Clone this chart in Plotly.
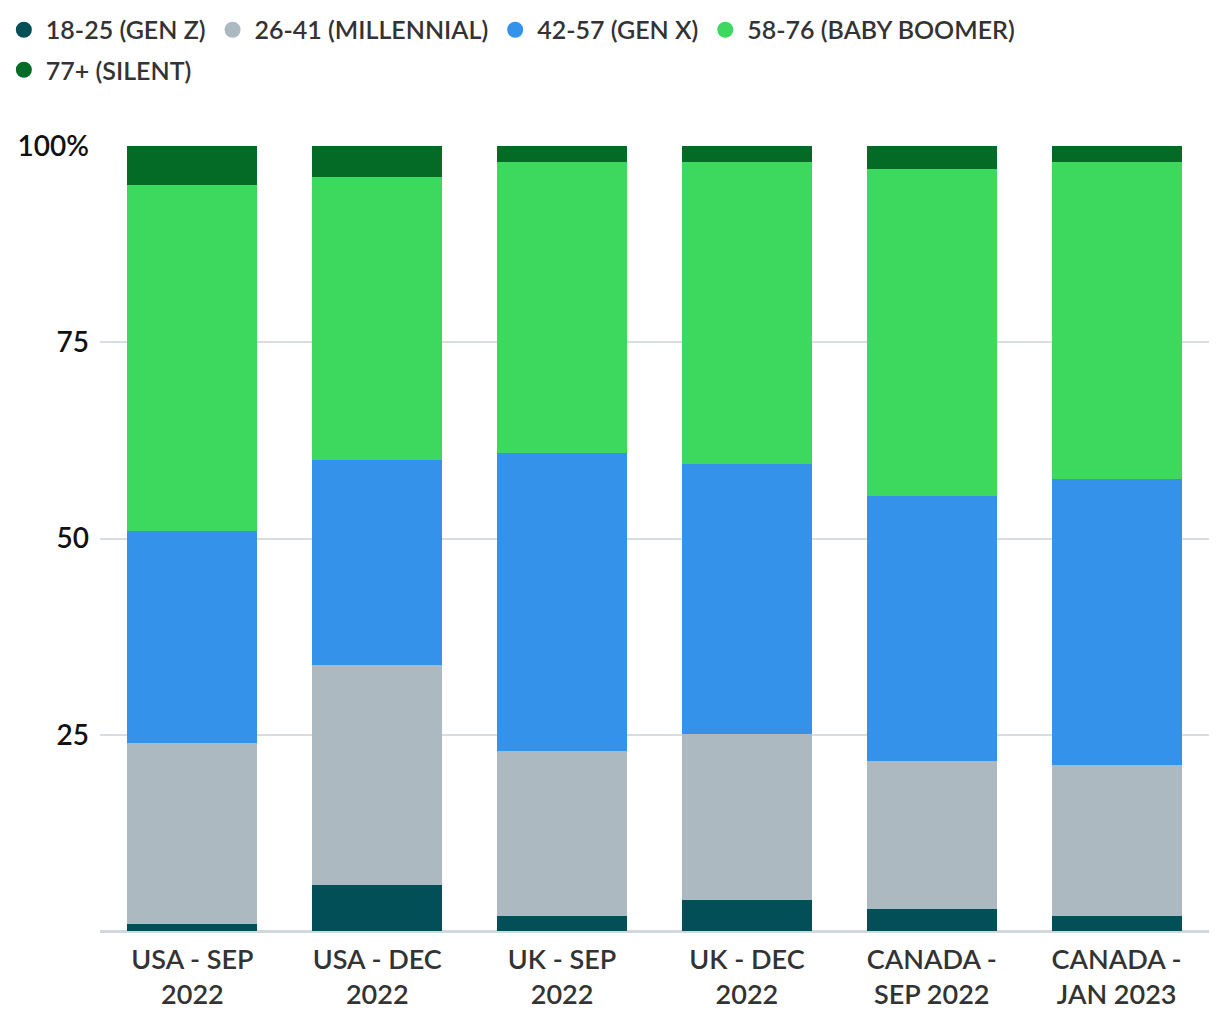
import plotly.graph_objects as go

categories = ["USA - SEP<br>2022", "USA - DEC<br>2022", "UK - SEP<br>2022",
              "UK - DEC<br>2022", "CANADA -<br>SEP 2022", "CANADA -<br>JAN 2023"]
series_names = ["18-25 (GEN Z)", "26-41 (MILLENNIAL)", "42-57 (GEN X)",
                "58-76 (BABY BOOMER)", "77+ (SILENT)"]
gen_z = [0.9, 5.9, 1.9, 3.9, 2.8, 1.9]
millennial = [23.0, 28.0, 21.0, 21.2, 18.9, 19.2]
gen_x = [27.1, 26.1, 38.0, 34.4, 33.7, 36.5]
boomer = [44.0, 36.1, 37.1, 38.5, 41.7, 40.4]
silent = [5.0, 3.9, 2.0, 2.0, 2.9, 2.0]
tick_vals = [0, 25, 50, 75, 100]
tick_text = ["", "25", "50", "75", "100%"]

colors = ["#024f57", "#adb9c1", "#3492ea", "#3cd95e", "#036b26"]
values = [gen_z, millennial, gen_x, boomer, silent]
legend_rows = ["legend", "legend", "legend", "legend", "legend2"]
semi = "Lato Semibold, Lato"

fig = go.Figure()
for name, vals, col in zip(series_names, values, colors):
    fig.add_trace(go.Bar(x=categories, y=vals, name=name, marker_color=col,
                         marker_line_width=0, showlegend=False))
for name, col, lg in zip(series_names, colors, legend_rows):
    fig.add_trace(go.Scatter(x=[None], y=[None], mode="markers", name=name,
                             legend=lg,
                             marker=dict(color=col, size=16, symbol="circle")))

legend_style = dict(orientation="h", xanchor="left", yanchor="middle",
                    font=dict(size=25, color="#333333", family=semi),
                    itemwidth=34, traceorder="normal", tracegroupgap=0,
                    bgcolor="rgba(0,0,0,0)")

fig.update_layout(
    width=1212, height=1012,
    barmode="stack", bargap=0.297,
    plot_bgcolor="white", paper_bgcolor="white",
    margin=dict(l=91.5, r=10.5, t=138, b=89, autoexpand=False),
    font=dict(family=semi, color="#333333"),
    legend=dict(x=-0.0885, y=1.1478, **legend_style),
    legend2=dict(x=-0.0885, y=1.0968, **legend_style),
    xaxis=dict(showgrid=False,
               tickfont=dict(size=27, color="#333333", family=semi),
               ticks="", showline=False, ticklabelstandoff=10),
    yaxis=dict(range=[0, 100], tickvals=tick_vals, ticktext=tick_text,
               tickfont=dict(size=28, color="#111111", family=semi),
               gridcolor="#d6dee3", gridwidth=1.5,
               zeroline=True, zerolinecolor="#cfd9de", zerolinewidth=3,
               ticks="", ticklabelstandoff=10),
)
fig.write_html("out.html")
